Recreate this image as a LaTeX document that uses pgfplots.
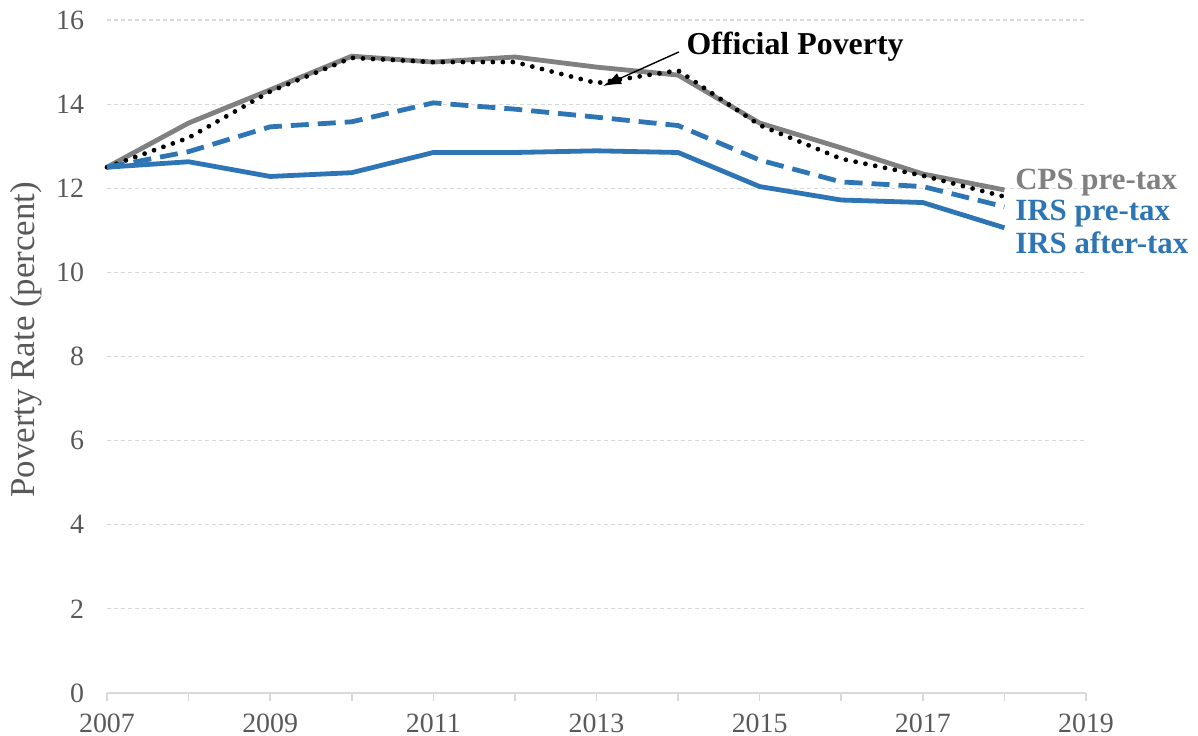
\documentclass[border=0pt]{standalone}
\usepackage{fontspec}
\setmainfont{Liberation Serif}
\usepackage{pgfplots}
\pgfplotsset{compat=1.18}
\usetikzlibrary{arrows.meta}

\definecolor{cpsgray}{HTML}{808080}
\definecolor{irsblue}{HTML}{2E75B6}
\definecolor{gridgray}{HTML}{D9D9D9}
\definecolor{ticktext}{HTML}{595959}

\begin{document}
\begin{tikzpicture}
\begin{axis}[
    scale only axis,
    width=489.5bp, height=336.5bp,
    xmin=2007, xmax=2019, ymin=0, ymax=16,
    xtick={2007,2009,...,2019},
    minor xtick={2008,2010,...,2018},
    ytick={0,2,...,16},
    /pgf/number format/1000 sep={},
    /pgf/number format/assume math mode=true,
    axis x line*=bottom,
    axis y line*=left,
    x axis line style={draw=gridgray, line width=1bp, -},
    y axis line style={draw=none},
    xtick style={draw=gridgray, line width=0.8bp},
    ytick style={draw=none},
    minor tick style={draw=gridgray, line width=0.8bp},
    major tick length=4bp, minor tick length=4bp,
    tick align=outside,
    ymajorgrids=true,
    major grid style={draw=gridgray, line width=0.6bp, dash pattern=on 2bp off 1.5bp},
    ticklabel style={font=\fontsize{14}{16}\selectfont, text=ticktext},
    xticklabel style={yshift=-3bp},
    yticklabel style={xshift=-4bp},
    ylabel={Poverty Rate (percent)},
    ylabel style={at={(axis description cs:-0.083,0.525)}, rotate=0, anchor=center,
        font=\fontsize{17.5}{19}\selectfont, text=ticktext},
    clip=false,
]
% CPS pre-tax
\addplot[cpsgray, line width=2.4bp] coordinates {
    (2007,12.5) (2008,13.55) (2009,14.34) (2010,15.14) (2011,15.0) (2012,15.12)
    (2013,14.88) (2014,14.69) (2015,13.55) (2016,12.96) (2017,12.34) (2018,11.96)
};
% Official poverty
\addplot[black, line width=2.4bp, line cap=round, dash pattern=on 0bp off 5bp] coordinates {
    (2007,12.5) (2008,13.2) (2009,14.3) (2010,15.1) (2011,15.0) (2012,15.0)
    (2013,14.5) (2014,14.8) (2015,13.5) (2016,12.7) (2017,12.3) (2018,11.8)
};
% IRS pre-tax
\addplot[irsblue, line width=2.4bp, dash pattern=on 9bp off 4.5bp] coordinates {
    (2007,12.5) (2008,12.87) (2009,13.46) (2010,13.58) (2011,14.03) (2012,13.88)
    (2013,13.69) (2014,13.49) (2015,12.67) (2016,12.15) (2017,12.04) (2018,11.56)
};
% IRS after-tax
\addplot[irsblue, line width=2.4bp] coordinates {
    (2007,12.5) (2008,12.63) (2009,12.28) (2010,12.37) (2011,12.85) (2012,12.85)
    (2013,12.89) (2014,12.85) (2015,12.04) (2016,11.72) (2017,11.66) (2018,11.06)
};
\node[anchor=west, inner sep=0pt, font=\fontsize{15.5}{17}\selectfont\bfseries, text=cpsgray] at (axis cs:2018.13,12.13) {CPS pre-tax};
\node[anchor=west, inner sep=0pt, font=\fontsize{15.5}{17}\selectfont\bfseries, text=irsblue] at (axis cs:2018.13,11.39) {IRS pre-tax};
\node[anchor=west, inner sep=0pt, font=\fontsize{15.5}{17}\selectfont\bfseries, text=irsblue] at (axis cs:2018.13,10.70) {IRS after-tax};
\node[anchor=west, inner sep=0pt, font=\fontsize{16}{18}\selectfont\bfseries] at (axis cs:2014.10,15.36) {Official Poverty};
\draw[-{Latex[length=9bp,width=6bp]}, line width=0.7bp] (axis cs:2014.01,15.24) -- (axis cs:2013.08,14.43);
\end{axis}
\pgfresetboundingbox
\useasboundingbox (-53.5bp,-21.5bp) rectangle (545.5bp,346.5bp);
\end{tikzpicture}
\end{document}
